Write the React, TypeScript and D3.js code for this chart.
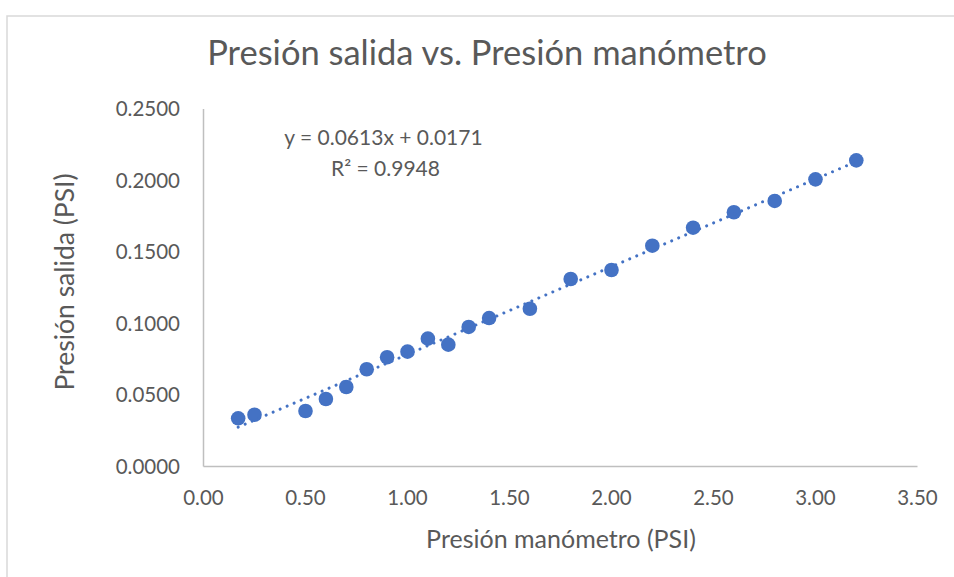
import React from "react";
import * as d3 from "d3";

const xValues = [0.17, 0.25, 0.5, 0.6, 0.7, 0.8, 0.9, 1.0, 1.1, 1.2, 1.3, 1.4, 1.6, 1.8, 2.0, 2.2, 2.4, 2.6, 2.8, 3.0, 3.2];
const yValues = [0.0337, 0.0362, 0.0388, 0.0472, 0.0556, 0.068, 0.0764, 0.0803, 0.0894, 0.0852, 0.0976, 0.1038, 0.1103, 0.1311, 0.1374, 0.1544, 0.167, 0.1778, 0.1857, 0.2008, 0.2141];
const xTicks = [0, 0.5, 1.0, 1.5, 2.0, 2.5, 3.0, 3.5];
const yTicks = [0, 0.05, 0.1, 0.15, 0.2, 0.25];
const trendSlope = 0.0613;
const trendIntercept = 0.0171;
const titleText = "Presión salida vs. Presión manómetro";
const xTitle = "Presión manómetro (PSI)";
const yTitle = "Presión salida (PSI)";
const equationText = "y = 0.0613x + 0.0171";
const r2Text = "R² = 0.9948";

const FONT = "Lato, 'Open Sans', sans-serif";
const TEXT = "#595959";
const BLUE = "#4472C4";

export default function App() {
  const W = 954, H = 577;
  const x = d3.scaleLinear().domain([0, 3.5]).range([203.5, 917.5]);
  const y = d3.scaleLinear().domain([0, 0.25]).range([466.5, 109]);
  const xMin = d3.min(xValues) as number;
  const xMax = d3.max(xValues) as number;
  const trend = d3.line<number>().x((d) => x(d)).y((d) => y(trendSlope * d + trendIntercept));

  return (
    <svg width={W} height={H} style={{ position: "absolute", left: 0, top: 0, background: "#fff" }}>
      <rect x={7} y={16} width={980} height={600} fill="#fff" stroke="#D9D9D9" strokeWidth={1.5} />
      <text x={487} y={65} textAnchor="middle" fontFamily={FONT} fontSize={34.5} fill={TEXT}>{titleText}</text>
      {/* axes */}
      <line x1={x(0)} x2={x(0)} y1={y(0.25)} y2={y(0)} stroke="#BFBFBF" strokeWidth={1.5} />
      <line x1={x(0)} x2={x(3.5)} y1={y(0)} y2={y(0)} stroke="#BFBFBF" strokeWidth={1.5} />
      {yTicks.map((t) => (
        <text key={"y" + t} x={180} y={y(t)} dy="0.35em" textAnchor="end" fontFamily={FONT} fontSize={20.5} fill={TEXT}>
          {t.toFixed(4)}
        </text>
      ))}
      {xTicks.map((t) => (
        <text key={"x" + t} x={x(t)} y={505} textAnchor="middle" fontFamily={FONT} fontSize={20.5} fill={TEXT}>
          {t.toFixed(2)}
        </text>
      ))}
      <text x={561} y={548} textAnchor="middle" fontFamily={FONT} fontSize={25} fill={TEXT}>{xTitle}</text>
      <text transform={`translate(74,282) rotate(-90)`} textAnchor="middle" fontFamily={FONT} fontSize={26.5} fill={TEXT}>{yTitle}</text>
      {/* points */}
      {xValues.map((v, i) => (
        <circle key={i} cx={x(v)} cy={y(yValues[i])} r={7.3} fill={BLUE} />
      ))}
      {/* trendline */}
      <path d={trend([xMin, xMax]) || ""} fill="none" stroke={BLUE} strokeWidth={3} strokeLinecap="round" strokeDasharray="0.01 7.6" />
      <text x={383.5} y={145} textAnchor="middle" fontFamily={FONT} fontSize={21} fill={TEXT}>{equationText}</text>
      <text x={385.5} y={176} textAnchor="middle" fontFamily={FONT} fontSize={21} fill={TEXT}>{r2Text}</text>
    </svg>
  );
}
